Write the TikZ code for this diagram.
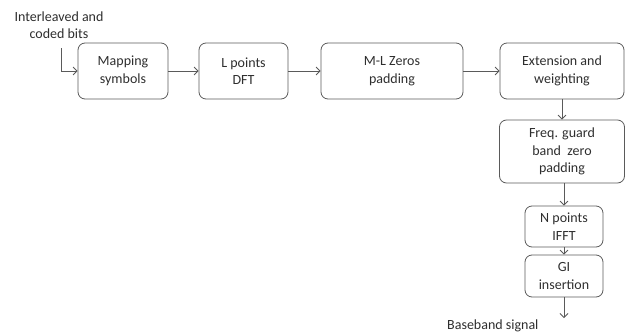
\documentclass[tikz,border=0pt]{standalone}
\usepackage{fontspec}
\setmainfont{Carlito}
\usetikzlibrary{arrows.meta}
\definecolor{boxgray}{HTML}{5A5A5A}
\definecolor{txtgray}{HTML}{2E2E2E}
\tikzset{
  blk/.style={draw=boxgray, line width=0.8pt, rounded corners=7pt, align=center, text=txtgray, inner sep=2pt},
  flow/.style={draw=boxgray, line width=0.8pt, -{Straight Barb[length=4pt,width=8pt]}},
}
\begin{document}
\begin{tikzpicture}[x=1pt, y=-1pt, every node/.style={font=\fontsize{14}{17.5}\selectfont}]
  \useasboundingbox (0,0) rectangle (625,335);
  % --- top row ---
  \node[blk, minimum width=90pt, minimum height=56pt] (map) at (123,71) {Mapping\\symbols};
  \node[blk, minimum width=89pt, minimum height=56pt] (dft) at (243.5,71) {L points\\DFT};
  \node[blk, minimum width=142pt, minimum height=56pt] (zpad) at (392,71) {M-L Zeros\\padding};
  \node[blk, minimum width=124pt, minimum height=56pt] (ext) at (562,71) {Extension and\\weighting};
  % --- right column ---
  \node[blk, minimum width=125pt, minimum height=63pt] (guard) at (562,151.5) {Freq. guard\\band~~zero\\padding};
  \node[blk, minimum width=78pt, minimum height=41pt] (ifft) at (564,226.5) {N points\\IFFT};
  \node[blk, minimum width=78pt, minimum height=42pt] (gi) at (564,276) {GI\\insertion};
  % --- input and output ---
  \node[align=center, text=txtgray] (inlbl) at (59,25) {Interleaved and\\coded bits};
  \coordinate (intop) at (61,48);
  \coordinate (outend) at (564,318);
  \node[text=txtgray, anchor=east] (outlbl) at (542,326) {Baseband signal};
  % --- connectors ---
  \draw[flow] (intop) |- (map.west);
  \draw[flow] (map) -- (dft);
  \draw[flow] (dft) -- (zpad);
  \draw[flow] (zpad) -- (ext);
  \draw[flow] (ext) -- (guard);
  \draw[flow] (guard.south -| ifft) -- (ifft);
  \draw[flow] (ifft) -- (gi);
  \draw[flow] (gi) -- (outend);
\end{tikzpicture}
\end{document}
